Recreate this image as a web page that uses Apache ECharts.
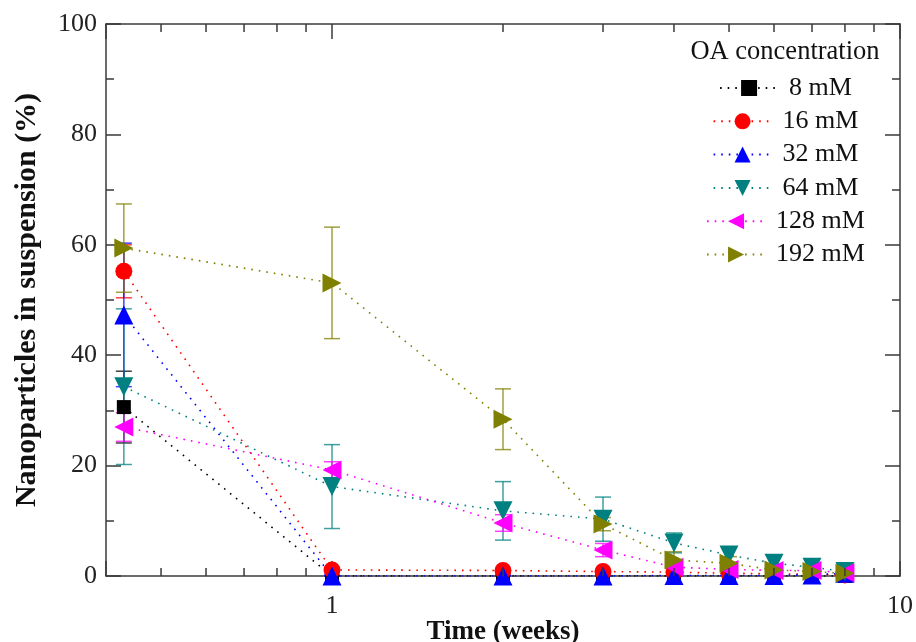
<!DOCTYPE html>
<html><head><meta charset="utf-8">
<script src="https://cdn.jsdelivr.net/npm/echarts@6/dist/echarts.min.js"></script>
<style>html,body{margin:0;padding:0;background:#fff}#c{width:916px;height:642px}</style>
</head><body><div id="c"></div>
<script>
// ---- data ----
const weeks = [0.43, 1, 2, 3, 4, 5, 6, 7, 8];
const seriesNames = ['8 mM', '16 mM', '32 mM', '64 mM', '128 mM', '192 mM'];
const v8   = [30.6, 0, 0, 0, 0, 0, 0, 0, 0];
const v16  = [55.2, 1.1, 1.0, 0.8, 0.7, 0.5, 0.4, 0.3, 0.2];
const v32  = [47.3, 0, 0, 0, 0.1, 0.1, 0.1, 0.2, 0.5];
const v64  = [34.3, 16.2, 11.8, 10.3, 6.0, 3.8, 2.3, 1.6, 0.8];
const v128 = [27.0, 19.2, 9.6, 4.7, 1.6, 1.2, 1.0, 1.0, 0.6];
const v192 = [59.4, 53.1, 28.4, 9.4, 2.9, 2.3, 1.1, 0.8, 0.5];
const e8   = [6.5, 0, 0, 0, 0, 0, 0, 0, 0];
const e16  = [4.8, 0.3, 0.3, 0.3, 0.2, 0.2, 0.1, 0.1, 0.1];
const e32  = [13.0, 0.2, 0.2, 0.2, 0.2, 0.2, 0.2, 0.2, 0.3];
const e64  = [14.1, 7.6, 5.3, 4.0, 1.8, 1.4, 1.3, 1.3, 0.5];
const e128 = [2.6, 1.5, 1.5, 1.2, 0.8, 0.6, 0.5, 0.5, 0.4];
const e192 = [8.0, 10.1, 5.5, 1.2, 1.5, 1.2, 0.8, 0.6, 0.4];
const xMinorTicks = [0.5, 0.6, 0.7, 0.8, 0.9, 2, 3, 4, 5, 6, 7, 8, 9];
const xTickLabels = [1, 10];
const yTickLabels = [0, 20, 40, 60, 80, 100];
const legendTitle = 'OA concentration';
const xTitle = 'Time (weeks)';
const yTitle = 'Nanoparticles in suspension (%)';

// ---- styles ----
const values = [v8, v16, v32, v64, v128, v192];
const errors = [e8, e16, e32, e64, e128, e192];
const colors = ['#000000', '#FF0000', '#0000FF', '#008080', '#FF00FF', '#808000'];
const symbols = ['rect', 'circle', 'triangle', 'triangle', 'triangle', 'triangle'];
const rotates = [0, 0, 0, 180, 90, -90];
const sizes = [14, 17, 19, 19, 19, 19];
const FONT = '"Liberation Serif", "Times New Roman", serif';
const axisColor = '#3a3a3a';

const isMajor = v => v >= 1 && Math.abs(Math.log10(v) - Math.round(Math.log10(v))) < 1e-6;

const series = [];
values.forEach((vals, i) => {
  const errData = [];
  vals.forEach((v, k) => {
    if (errors[i][k] > 0) errData.push([weeks[k], Math.max(0, v - errors[i][k]), v + errors[i][k]]);
  });
  series.push({
    type: 'custom', name: seriesNames[i] + ' err', silent: true, z: 2,
    xAxisIndex: 0, yAxisIndex: 0,
    encode: { x: 0, y: [1, 2] },
    data: errData,
    renderItem: function (params, api) {
      const x = api.value(0);
      const lo = api.coord([x, api.value(1)]);
      const hi = api.coord([x, api.value(2)]);
      const hw = 8;
      const st = { stroke: colors[i], lineWidth: 1.5, opacity: 0.75 };
      return { type: 'group', children: [
        { type: 'line', shape: { x1: lo[0], y1: lo[1], x2: hi[0], y2: hi[1] }, style: st },
        { type: 'line', shape: { x1: hi[0] - hw, y1: hi[1], x2: hi[0] + hw, y2: hi[1] }, style: st },
        { type: 'line', shape: { x1: lo[0] - hw, y1: lo[1], x2: lo[0] + hw, y2: lo[1] }, style: st }
      ]};
    }
  });
  series.push({
    type: 'line', name: seriesNames[i], z: 3,
    xAxisIndex: 0, yAxisIndex: 0,
    data: weeks.map((w, k) => [w, vals[k]]),
    symbol: symbols[i], symbolSize: sizes[i], symbolRotate: rotates[i],
    showAllSymbol: true,
    lineStyle: { color: colors[i], width: 1.6, type: [1.6, 6] },
    itemStyle: { color: colors[i] },
    emphasis: { disabled: true }
  });
});

// minor ticks on the log x axis (top and bottom)
series.push({
  type: 'custom', name: 'xminor', silent: true, z: 5,
  xAxisIndex: 0, yAxisIndex: 0, clip: false,
  encode: { x: 0, y: 1 },
  data: xMinorTicks.map(v => [v, 0]),
  renderItem: function (params, api) {
    const x = api.coord([api.value(0), 0])[0];
    const yb = api.coord([1, 0])[1];
    const yt = api.coord([1, 100])[1];
    const st = { stroke: axisColor, lineWidth: 1.5 };
    return { type: 'group', children: [
      { type: 'line', shape: { x1: x, y1: yb, x2: x, y2: yb - 8 }, style: st },
      { type: 'line', shape: { x1: x, y1: yt, x2: x, y2: yt + 8 }, style: st }
    ]};
  }
});

// legends, one per entry, each centred on the same x
const LFS = 26;
const ctx = document.createElement('canvas').getContext('2d');
ctx.font = LFS + 'px ' + FONT;
const legendCenter = 785, itemW = 58, txtPad = 6;
const legends = seriesNames.map((n, i) => {
  const tw = ctx.measureText(n).width;
  const total = itemW + 5 + txtPad + tw;
  return {
    data: [n], orient: 'horizontal', left: legendCenter - total / 2, top: 75 + i * 33.3,
    padding: 0, itemWidth: itemW, itemHeight: 20, selectedMode: false,
    textStyle: { fontFamily: FONT, fontSize: LFS, color: '#111', padding: [0, 0, 0, txtPad], lineHeight: 22 }
  };
});

const logAxisLabel = {
  fontFamily: FONT, fontSize: 26, color: '#222', margin: 17,
  formatter: v => (isMajor(v) && xTickLabels.some(t => Math.abs(t - v) < 1e-6)) ? String(Math.round(v)) : ''
};

const option = {
  animation: false,
  backgroundColor: '#fff',
  grid: { left: 106, right: 16, top: 24, bottom: 66, containLabel: false, outerBoundsMode: 'none' },
  legend: legends,
  graphic: [{
    type: 'text', x: legendCenter, y: 52,
    style: { text: legendTitle, font: '26.5px ' + FONT, fill: '#111', textAlign: 'center', textVerticalAlign: 'middle', align: 'center', verticalAlign: 'middle' }
  }],
  xAxis: [{
    type: 'log', logBase: 10, min: 0.4, max: 10, position: 'bottom',
    name: xTitle, nameLocation: 'middle', nameGap: 43, nameMoveOverlap: false,
    nameTextStyle: { fontFamily: FONT, fontSize: 27, fontWeight: 'bold', color: '#111' },
    axisLine: { show: true, onZero: false, lineStyle: { color: axisColor, width: 1.5 } },
    axisTick: { show: true, inside: true, length: 15, lineStyle: { color: axisColor, width: 1.5 } },
    axisLabel: logAxisLabel,
    splitLine: { show: false }, minorTick: { show: false }, minorSplitLine: { show: false }
  }, {
    type: 'log', logBase: 10, min: 0.4, max: 10, position: 'top',
    axisLine: { show: true, onZero: false, lineStyle: { color: axisColor, width: 1.5 } },
    axisTick: { show: true, inside: true, length: 15, lineStyle: { color: axisColor, width: 1.5 } },
    axisLabel: { show: false }, splitLine: { show: false }
  }],
  yAxis: [{
    type: 'value', min: 0, max: 100, interval: 20, position: 'left',
    name: yTitle, nameLocation: 'middle', nameGap: 64, nameRotate: 90, nameMoveOverlap: false,
    nameTextStyle: { fontFamily: FONT, fontSize: 30, fontWeight: 'bold', color: '#111' },
    axisLine: { show: true, lineStyle: { color: axisColor, width: 1.5 } },
    axisTick: { show: true, inside: true, length: 15, lineStyle: { color: axisColor, width: 1.5 } },
    minorTick: { show: true, splitNumber: 2, length: 8, lineStyle: { color: axisColor, width: 1.5 } },
    axisLabel: { fontFamily: FONT, fontSize: 26, color: '#222', margin: 9,
      formatter: v => yTickLabels.includes(v) ? String(v) : '' },
    splitLine: { show: false }
  }, {
    type: 'value', min: 0, max: 100, interval: 20, position: 'right',
    axisLine: { show: true, lineStyle: { color: axisColor, width: 1.5 } },
    axisTick: { show: true, inside: true, length: 15, lineStyle: { color: axisColor, width: 1.5 } },
    minorTick: { show: true, splitNumber: 2, length: 8, lineStyle: { color: axisColor, width: 1.5 } },
    axisLabel: { show: false }, splitLine: { show: false }
  }],
  series: series
};

const chart = echarts.init(document.getElementById('c'), null, { renderer: 'canvas' });
chart.setOption(option);
</script>
</body></html>
